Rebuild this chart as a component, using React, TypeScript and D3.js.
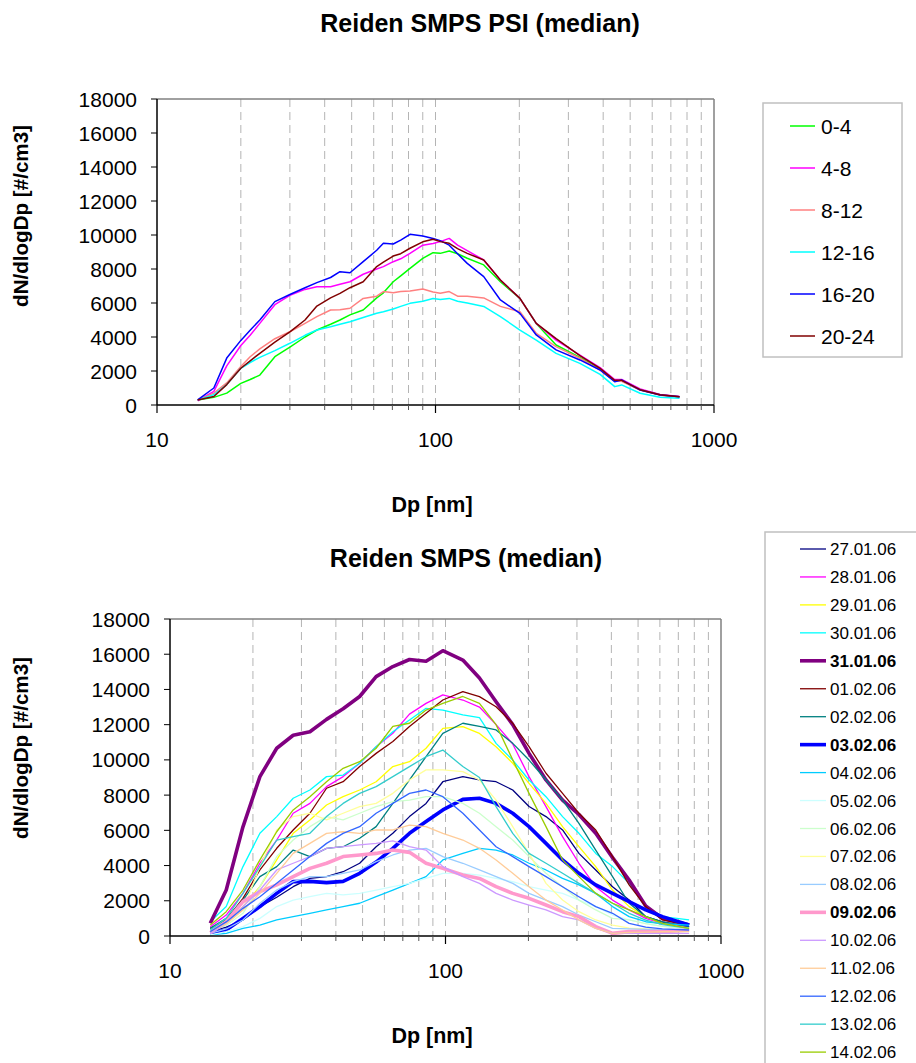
import React from 'react';
import * as d3 from 'd3';

// ---------- Top chart data (Dp in nm, dN/dlogDp in #/cm3) ----------
const DP_TOP = [14, 16, 17.8, 20, 21.6, 23.4, 26.5, 30, 34, 37.5, 42, 45.4, 49.3, 55, 61.5, 65, 70.5, 75, 81, 90, 98, 104, 112, 120, 130, 149, 171, 201, 230, 271, 330, 390, 440, 466, 543, 640, 752];
const H0_4 = [300, 450, 700, 1270, 1500, 1760, 2840, 3400, 4000, 4410, 4750, 5000, 5300, 5590, 6300, 6600, 7250, 7600, 8040, 8630, 8960, 8920, 9060, 8900, 8630, 8240, 7250, 6270, 4800, 3530, 2800, 2100, 1400, 1450, 900, 600, 480];
const H4_8 = [250, 800, 2300, 3500, 4100, 4800, 5900, 6450, 6800, 6960, 6960, 7100, 7250, 7690, 8000, 8140, 8430, 8600, 8920, 9400, 9500, 9610, 9800, 9400, 9080, 8530, 7350, 6270, 4800, 3820, 2940, 2200, 1500, 1500, 950, 620, 500];
const H8_12 = [300, 700, 1300, 2260, 2840, 3300, 3900, 4310, 4800, 5200, 5590, 5600, 5690, 6270, 6400, 6670, 6600, 6670, 6700, 6820, 6650, 6570, 6670, 6400, 6400, 6300, 5800, 5490, 4220, 3430, 2750, 2050, 1400, 1400, 880, 580, 470];
const H12_16 = [300, 600, 1200, 2160, 2500, 2800, 3200, 3630, 4100, 4410, 4600, 4750, 4900, 5150, 5400, 5490, 5650, 5800, 5980, 6100, 6270, 6200, 6270, 6100, 6000, 5800, 5200, 4410, 3820, 3040, 2450, 1800, 1080, 1180, 690, 450, 400];
const H16_20 = [300, 1000, 2760, 3800, 4400, 5000, 6080, 6500, 6900, 7200, 7500, 7840, 7780, 8430, 9100, 9510, 9470, 9700, 10040, 9940, 9800, 9670, 9400, 8900, 8330, 7550, 6180, 5390, 4120, 3240, 2650, 2060, 1370, 1470, 880, 590, 490];
const H20_24 = [300, 500, 1200, 2160, 2600, 3040, 3700, 4300, 5000, 5820, 6300, 6570, 6900, 7250, 8140, 8400, 8760, 8900, 9220, 9600, 9750, 9610, 9510, 9200, 8920, 8530, 7350, 6270, 4800, 3900, 2900, 2150, 1450, 1450, 900, 600, 480];
const TOP_LABELS = ['0-4', '4-8', '8-12', '12-16', '16-20', '20-24'];
const TOP_VALUES = [H0_4, H4_8, H8_12, H12_16, H16_20, H20_24];
const TOP_COLORS = ['#00ff00', '#ff00ff', '#ff8080', '#00ffff', '#0000ff', '#800000'];

// ---------- Bottom chart data ----------
const DP_BOT = [14, 16, 18.4, 21.2, 24.4, 28, 32.2, 37, 42.5, 48.8, 56, 64.4, 74, 85, 97.8, 115.6, 132.8, 152.6, 175.4, 201, 231.6, 266, 305, 351, 404, 464, 533, 613, 766];
const D270106 = [250, 500, 910, 1670, 2200, 2800, 3270, 3370, 3650, 4130, 5070, 5830, 6780, 7530, 8760, 9050, 8860, 8760, 8290, 7350, 6780, 6020, 4690, 3750, 2800, 2040, 1100, 800, 530];
const D280106 = [530, 1190, 2420, 4130, 5450, 6970, 7530, 8480, 9050, 9810, 10750, 11510, 12600, 13210, 13690, 13400, 13000, 12000, 10900, 9050, 7350, 5640, 4130, 2800, 2040, 1480, 1000, 720, 530];
const D290106 = [250, 720, 1670, 2800, 4320, 5830, 6590, 7440, 7910, 8290, 8760, 9620, 9900, 10660, 11790, 11890, 11500, 10750, 9810, 8670, 7530, 6210, 5070, 3940, 2610, 1670, 1100, 700, 435];
const D300106 = [810, 1670, 3940, 5830, 6780, 7820, 8290, 9050, 9140, 9810, 10750, 11600, 12270, 12930, 12830, 12550, 12400, 10940, 9990, 8860, 7910, 6780, 5830, 4690, 3940, 2990, 1670, 1100, 910];
const D310106 = [720, 2610, 6200, 9050, 10660, 11400, 11600, 12300, 12900, 13600, 14730, 15300, 15700, 15600, 16200, 15670, 14650, 13300, 12000, 10370, 8860, 7720, 6900, 5830, 4450, 3180, 1700, 1000, 620];
const D010206 = [435, 910, 2140, 3750, 4980, 6020, 6970, 8390, 8760, 9620, 10370, 11040, 11890, 12650, 13400, 13880, 13590, 13020, 12080, 10750, 9240, 8100, 6970, 6020, 4510, 2900, 1670, 910, 620];
const D020206 = [435, 1000, 2040, 3370, 3940, 4880, 4510, 4980, 5070, 5550, 6210, 7530, 8860, 10180, 11510, 12080, 11900, 11700, 10940, 9990, 8860, 7720, 6400, 4880, 3370, 1860, 1100, 800, 530];
const D030206 = [150, 340, 1000, 1670, 2420, 3090, 3100, 3030, 3100, 3560, 4200, 4980, 5830, 6500, 7160, 7760, 7820, 7530, 6970, 6210, 5260, 4320, 3560, 2900, 2420, 1950, 1480, 1100, 620];
const D040206 = [60, 150, 435, 620, 910, 1100, 1290, 1480, 1670, 1860, 2230, 2610, 2990, 3370, 4320, 4690, 4980, 4880, 4600, 4130, 3750, 3270, 2900, 2420, 1670, 1100, 810, 700, 620];
const D050206 = [60, 250, 530, 1000, 1670, 2040, 2230, 2420, 2330, 2420, 2610, 2800, 2990, 3270, 3560, 3560, 3460, 3270, 3090, 2800, 2610, 2420, 2040, 1670, 1190, 910, 700, 550, 435];
const D060206 = [250, 600, 1290, 2800, 4510, 5450, 6210, 6780, 6590, 6970, 7350, 7630, 7720, 7910, 7910, 7530, 6970, 6210, 5450, 4510, 3560, 2800, 2040, 1480, 1000, 910, 700, 550, 435];
const D070206 = [250, 700, 1480, 3940, 6020, 6780, 6970, 6590, 6970, 7350, 7530, 8100, 8860, 9430, 9430, 9330, 8860, 7720, 6210, 4690, 2990, 2040, 1380, 910, 620, 450, 400, 350, 340];
const D080206 = [150, 400, 910, 1860, 2610, 3090, 3370, 3370, 3560, 3750, 4220, 4600, 4880, 4980, 4510, 4130, 3750, 3370, 2990, 2420, 2040, 1670, 1190, 810, 435, 400, 380, 360, 340];
const D090206 = [190, 810, 1950, 2520, 2900, 3370, 3840, 4130, 4510, 4600, 4690, 4880, 4750, 4130, 3840, 3460, 3270, 2800, 2420, 2140, 1760, 1380, 1100, 530, 150, 250, 250, 250, 340];
const D100206 = [150, 700, 1670, 2610, 3750, 4130, 4510, 4980, 5070, 5170, 5260, 5400, 5070, 4880, 3940, 3370, 2990, 2420, 2040, 1760, 1480, 1100, 910, 435, 150, 150, 150, 150, 150];
const D110206 = [250, 700, 1480, 2420, 3560, 4690, 5260, 5830, 5920, 5830, 6020, 6020, 6300, 6210, 5830, 5450, 4980, 4320, 3560, 2800, 2040, 1480, 910, 435, 150, 200, 220, 240, 250];
const D120206 = [250, 800, 1570, 2230, 2990, 3750, 4510, 5260, 5830, 6210, 6970, 7530, 8100, 8290, 7910, 6970, 6020, 5070, 4510, 3940, 3370, 2800, 2230, 1670, 1290, 720, 500, 400, 340];
const D130206 = [340, 1000, 2420, 3940, 5450, 5640, 5830, 6780, 7530, 8100, 8480, 9050, 9620, 10180, 10560, 9620, 9000, 7350, 5830, 4690, 4130, 3560, 2990, 2420, 1860, 1290, 900, 650, 435];
const D140206 = [620, 1380, 2610, 4320, 5920, 7160, 7910, 8760, 9520, 9900, 10660, 11900, 12080, 12830, 13210, 13600, 13210, 12000, 10000, 8100, 6210, 4320, 3370, 2420, 1860, 1480, 1100, 720, 435];
const BOT_LABELS = ['27.01.06', '28.01.06', '29.01.06', '30.01.06', '31.01.06', '01.02.06', '02.02.06', '03.02.06', '04.02.06', '05.02.06', '06.02.06', '07.02.06', '08.02.06', '09.02.06', '10.02.06', '11.02.06', '12.02.06', '13.02.06', '14.02.06'];
const BOT_VALUES = [D270106, D280106, D290106, D300106, D310106, D010206, D020206, D030206, D040206, D050206, D060206, D070206, D080206, D090206, D100206, D110206, D120206, D130206, D140206];
const BOT_COLORS = ['#000080', '#ff00ff', '#ffff00', '#00ffff', '#800080', '#800000', '#008080', '#0000ff', '#00ccff', '#ccffff', '#ccffcc', '#ffff99', '#99ccff', '#ff99cc', '#cc99ff', '#ffcc99', '#3366ff', '#33cccc', '#99cc00'];
const BOT_BOLD = ['31.01.06', '03.02.06', '09.02.06'];

const Y_TICKS = [0, 2000, 4000, 6000, 8000, 10000, 12000, 14000, 16000, 18000];
const X_MAJOR = [10, 100, 1000];
const X_MINOR = [20, 30, 40, 50, 60, 70, 80, 90, 200, 300, 400, 500, 600, 700, 800, 900];
const X_GRID = [20, 30, 40, 50, 60, 70, 80, 90, 100, 200, 300, 400, 500, 600, 700, 800, 900];

const FONT = 'Liberation Sans, Arial, sans-serif';

type PlotProps = {
  x0: number; x1: number; y0: number; y1: number;
  dp: number[]; values: number[][]; colors: string[]; widths: number[];
  title: string; titleX: number; titleY: number;
  yTitleY: number;
};

function Plot(p: PlotProps) {
  const x = d3.scaleLog().domain([10, 1000]).range([p.x0, p.x1]);
  const y = d3.scaleLinear().domain([0, 18000]).range([p.y0, p.y1]);
  const line = d3.line<number>().x((_, i) => x(p.dp[i])).y((v) => y(v));
  return (
    <g>
      <text x={p.titleX} y={p.titleY} textAnchor="middle" fontFamily={FONT} fontWeight="bold" fontSize={25}>{p.title}</text>
      {X_GRID.map((g) => (
        <line key={'g' + g} x1={x(g)} x2={x(g)} y1={p.y1} y2={p.y0} stroke="#b4b4b4" strokeWidth={1} strokeDasharray="8,5" />
      ))}
      <line x1={p.x0} x2={p.x1} y1={p.y1} y2={p.y1} stroke="#808080" strokeWidth={1.5} />
      <line x1={p.x1} x2={p.x1} y1={p.y1} y2={p.y0} stroke="#808080" strokeWidth={1.5} />
      {p.values.map((vals, i) => (
        <path key={'s' + i} d={line(vals) || ''} fill="none" stroke={p.colors[i]} strokeWidth={p.widths[i]} strokeLinejoin="round" />
      ))}
      <line x1={p.x0} x2={p.x0} y1={p.y1} y2={p.y0} stroke="#000" strokeWidth={1.5} />
      <line x1={p.x0} x2={p.x1} y1={p.y0} y2={p.y0} stroke="#000" strokeWidth={1.5} />
      {Y_TICKS.map((t) => (
        <g key={'y' + t}>
          <line x1={p.x0 - 6} x2={p.x0} y1={y(t)} y2={y(t)} stroke="#000" strokeWidth={1} />
          <text x={p.x0 - 20} y={y(t) + 7.5} textAnchor="end" fontFamily={FONT} fontSize={21}>{t}</text>
        </g>
      ))}
      {X_MINOR.map((t) => (
        <line key={'m' + t} x1={x(t)} x2={x(t)} y1={p.y0} y2={p.y0 + 5} stroke="#555" strokeWidth={1} />
      ))}
      {X_MAJOR.map((t) => (
        <g key={'M' + t}>
          <line x1={x(t)} x2={x(t)} y1={p.y0} y2={p.y0 + 8} stroke="#000" strokeWidth={1.2} />
          <text x={x(t)} y={p.y0 + 42} textAnchor="middle" fontFamily={FONT} fontSize={21}>{t}</text>
        </g>
      ))}
      <text x={432} y={p.y0 + 107} textAnchor="middle" fontFamily={FONT} fontWeight="bold" fontSize={21.5}>Dp [nm]</text>
      <text transform={`translate(28,${p.yTitleY}) rotate(-90)`} textAnchor="middle" fontFamily={FONT} fontWeight="bold" fontSize={20.6}>dN/dlogDp [#/cm3]</text>
    </g>
  );
}

export default function App() {
  const topWidths = TOP_LABELS.map(() => 1.5);
  const botWidths = BOT_LABELS.map((l) => (BOT_BOLD.includes(l) ? 3.6 : 1.3));
  return (
    <svg width={916} height={1063} style={{ position: 'absolute', left: 0, top: 0, background: '#fff' }}>
      <rect x={0} y={0} width={916} height={1063} fill="#fff" />
      <Plot x0={157} x1={714} y0={405} y1={99} dp={DP_TOP} values={TOP_VALUES} colors={TOP_COLORS} widths={topWidths}
        title="Reiden SMPS PSI (median)" titleX={480} titleY={32} yTitleY={216} />
      <Plot x0={170} x1={721} y0={936} y1={619} dp={DP_BOT} values={BOT_VALUES} colors={BOT_COLORS} widths={botWidths}
        title="Reiden SMPS (median)" titleX={466} titleY={567} yTitleY={748} />
      {/* top legend */}
      <rect x={763} y={103} width={139} height={254} fill="#fff" stroke="#c0c0c0" strokeWidth={1.5} />
      {TOP_LABELS.map((l, i) => {
        const cy = 126 + i * 42;
        return (
          <g key={'tl' + l}>
            <line x1={790} x2={815} y1={cy} y2={cy} stroke={TOP_COLORS[i]} strokeWidth={1.5} />
            <text x={821} y={cy + 7.5} fontFamily={FONT} fontSize={21}>{l}</text>
          </g>
        );
      })}
      {/* bottom legend */}
      <rect x={765} y={532} width={170} height={560} fill="#fff" stroke="#c0c0c0" strokeWidth={1.5} />
      {BOT_LABELS.map((l, i) => {
        const cy = 549 + i * 27.95;
        const bold = BOT_BOLD.includes(l);
        return (
          <g key={'bl' + l}>
            <line x1={800} x2={826} y1={cy} y2={cy} stroke={BOT_COLORS[i]} strokeWidth={bold ? 3.6 : 1.3} />
            <text x={830} y={cy + 6} fontFamily={FONT} fontSize={17} fontWeight={bold ? 'bold' : 'normal'}>{l}</text>
          </g>
        );
      })}
    </svg>
  );
}
